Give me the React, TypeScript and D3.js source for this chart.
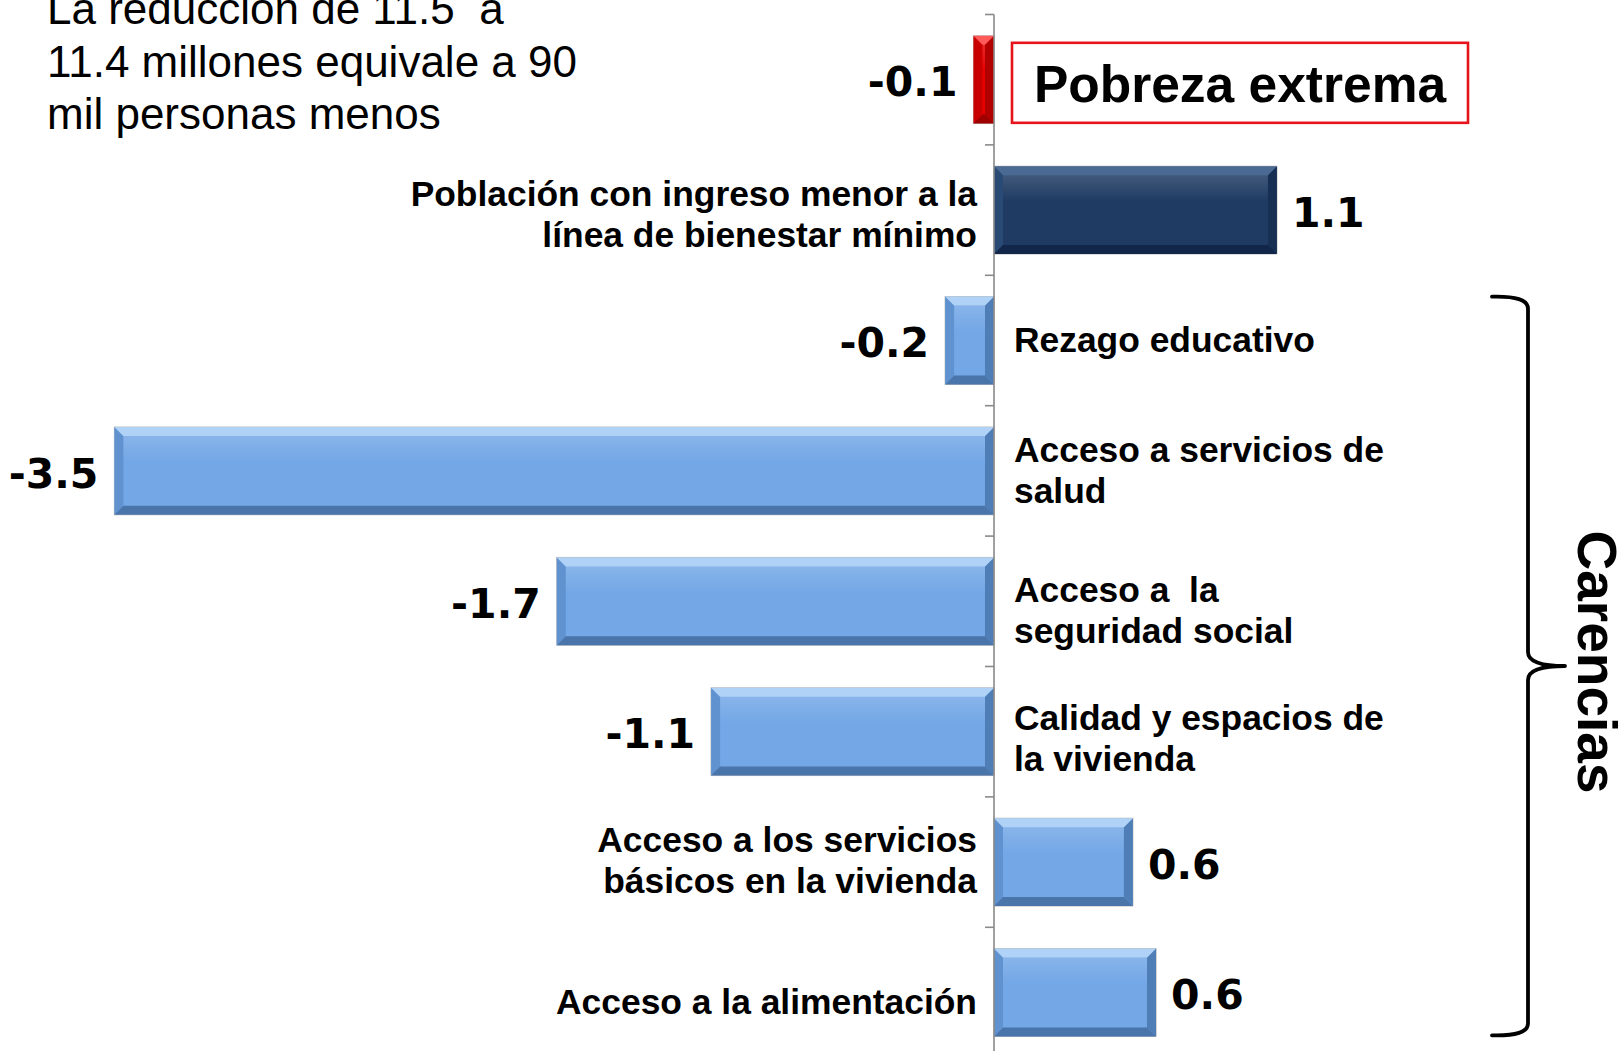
import React from "react";
import * as d3 from "d3";

// ---------- data ----------
const categories = [
  "extrema",
  "ingreso",
  "educativo",
  "salud",
  "seguridad",
  "vivienda",
  "servicios",
  "alimentacion",
];
const categoryLines: string[][] = [
  ["Pobreza extrema"],
  ["Población con ingreso menor a la", "línea de bienestar mínimo"],
  ["Rezago educativo"],
  ["Acceso a servicios de", "salud"],
  ["Acceso a  la", "seguridad social"],
  ["Calidad y espacios de", "la vivienda"],
  ["Acceso a los servicios", "básicos en la vivienda"],
  ["Acceso a la alimentación"],
];
const values = [-0.08, 1.1, -0.19, -3.42, -1.7, -1.1, 0.54, 0.63];
const valueLabels = ["-0.1", "1.1", "-0.2", "-3.5", "-1.7", "-1.1", "0.6", "0.6"];
const barGroups = ["extreme", "income", "lack", "lack", "lack", "lack", "lack", "lack"];
const noteLines = ["La reducción de 11.5  a", "11.4 millones equivale a 90", "mil personas menos"];
const bracketLabel = "Carencias";
const bracketFrom = "educativo";
const bracketTo = "alimentacion";

// ---------- styles ----------
const W = 1619;
const H = 1051;
const palette: Record<string, { face: string; top: string; bottom: string; left: string; right: string }> = {
  extreme: { face: "#E60000", top: "#FF5A5A", bottom: "#9E0000", left: "#C80000", right: "#B00000" },
  income: { face: "#1F3B63", top: "#4A6A94", bottom: "#12264A", left: "#2A4A76", right: "#172F52" },
  lack: { face: "#73A7E6", top: "#B0D2F6", bottom: "#4A75AA", left: "#6092D0", right: "#4F7DB6" },
};
// small vertical nudges (px) of category label blocks, as laid out in the original slide
const labelNudge = [0, 4, -1, -1, 8, 6, -2, 9];
const labelFont = "'Liberation Sans', Arial, sans-serif";
const valueFont = "'DejaVu Sans', Verdana, sans-serif";

const pre = (s: string) => s.replace(/  /g, " \u00A0");

export default function App() {
  const zeroX = 994;
  const unit = 257.2;
  const x = d3
    .scaleLinear()
    .domain([-3.5, 2.4])
    .range([zeroX - 3.5 * unit, zeroX + 2.4 * unit]);
  const y = d3
    .scaleBand<string>()
    .domain(categories)
    .range([14.5, 14.5 + 8 * 130.4])
    .paddingInner(0.327)
    .paddingOuter(0.1635);
  const step = y.step();
  const bh = y.bandwidth();
  const x0 = x(0);
  const rangeTop = (y.range() as number[])[0];

  const bevel = (bx: number, by: number, bw: number, bhh: number, b: number) => {
    const p = (pts: number[][]) => pts.map((q) => q.join(",")).join(" ");
    return {
      top: p([[bx, by], [bx + bw, by], [bx + bw - b, by + b], [bx + b, by + b]]),
      bottom: p([[bx, by + bhh], [bx + bw, by + bhh], [bx + bw - b, by + bhh - b], [bx + b, by + bhh - b]]),
      left: p([[bx, by], [bx + b, by + b], [bx + b, by + bhh - b], [bx, by + bhh]]),
      right: p([[bx + bw, by], [bx + bw - b, by + b], [bx + bw - b, by + bhh - b], [bx + bw, by + bhh]]),
    };
  };

  const braceTop = (y(bracketFrom) as number) + 0;
  const braceBot = (y(bracketTo) as number) + bh - 1;
  const braceMid = (braceTop + braceBot) / 2;
  const bxv = 1528;
  const bx0 = 1492;
  const btip = 1565;
  const bracePath = [
    `M${bx0},${braceTop}`,
    `Q${bxv},${braceTop - 1} ${bxv},${braceTop + 12}`,
    `L${bxv},${braceMid - 14}`,
    `Q${bxv},${braceMid} ${btip},${braceMid}`,
    `Q${bxv},${braceMid} ${bxv},${braceMid + 14}`,
    `L${bxv},${braceBot - 12}`,
    `Q${bxv},${braceBot + 1} ${bx0},${braceBot}`,
  ].join(" ");

  return (
    <svg
      width={W}
      height={H}
      viewBox={`0 0 ${W} ${H}`}
      style={{ position: "absolute", left: 0, top: 0, display: "block", background: "#fff" }}
    >
      <defs>
        <linearGradient id="hl" x1="0" y1="0" x2="0" y2="1">
          <stop offset="0" stopColor="#fff" stopOpacity="0.15" />
          <stop offset="1" stopColor="#fff" stopOpacity="0" />
        </linearGradient>
      </defs>
      <rect x={0} y={0} width={W} height={H} fill="#fff" />

      {/* note */}
      <g fontFamily={labelFont} fontSize={44} fill="#000">
        {noteLines.map((t, i) => (
          <text key={i} x={47} y={24 + i * 52.5}>
            {pre(t)}
          </text>
        ))}
      </g>

      {/* bars */}
      {categories.map((c, i) => {
        const v = values[i];
        const bx = Math.min(x(v), x0);
        const bw = Math.abs(x(v) - x0);
        const by = y(c) as number;
        const pal = palette[barGroups[i]];
        const b = Math.min(9, bw / 2, bh / 2);
        const bv = bevel(bx, by, bw, bh, b);
        return (
          <g key={c}>
            <rect x={bx} y={by} width={bw} height={bh} fill={pal.face} stroke="#b9b9b9" strokeWidth={1} />
            <polygon points={bv.left} fill={pal.left} />
            <polygon points={bv.right} fill={pal.right} />
            <polygon points={bv.top} fill={pal.top} />
            <polygon points={bv.bottom} fill={pal.bottom} />
            <rect x={bx + b} y={by + b} width={Math.max(0, bw - 2 * b)} height={bh * 0.3} fill="url(#hl)" />
          </g>
        );
      })}

      {/* axis */}
      <g stroke="#8a8a8a" strokeWidth={1.6}>
        <line x1={x0} x2={x0} y1={rangeTop} y2={H} />
        {d3.range(categories.length + 1).map((k) => (
          <line key={k} x1={x0 - 9} x2={x0} y1={rangeTop + k * step} y2={rangeTop + k * step} />
        ))}
      </g>

      {/* value labels */}
      <g fontFamily={valueFont} fontWeight="bold" fontSize={41} fill="#000">
        {categories.map((c, i) => {
          const v = values[i];
          const cy = (y(c) as number) + bh / 2;
          const pos = v >= 0;
          return (
            <text
              key={c}
              x={pos ? x(v) + 15 : x(v) - 16}
              y={cy + 2}
              dy="0.36em"
              textAnchor={pos ? "start" : "end"}
            >
              {valueLabels[i]}
            </text>
          );
        })}
      </g>

      {/* category labels */}
      <g fontFamily={labelFont} fontWeight="bold" fontSize={35.4} fill="#000">
        {categories.map((c, i) => {
          const v = values[i];
          const cy = (y(c) as number) + bh / 2;
          const lines = categoryLines[i];
          if (barGroups[i] === "extreme") {
            const bxL = x0 + 18;
            const bwL = 456;
            const byL = (y(c) as number) + 7;
            const bhL = 80;
            return (
              <g key={c}>
                <rect x={bxL} y={byL} width={bwL} height={bhL} fill="#fff" stroke="#E8141C" strokeWidth={2.6} />
                <text x={bxL + bwL / 2} y={byL + bhL / 2 + 1} dy="0.36em" textAnchor="middle" fontSize={51.5}>
                  {lines[0]}
                </text>
              </g>
            );
          }
          const pos = v >= 0;
          const lh = 41;
          const startY = cy + labelNudge[i] - ((lines.length - 1) * lh) / 2;
          return (
            <g key={c}>
              {lines.map((t, j) => (
                <text
                  key={j}
                  x={pos ? x0 - 17 : x0 + 20}
                  y={startY + j * lh}
                  dy="0.36em"
                  textAnchor={pos ? "end" : "start"}
                >
                  {pre(t)}
                </text>
              ))}
            </g>
          );
        })}
      </g>

      {/* bracket */}
      <path d={bracePath} fill="none" stroke="#000" strokeWidth={3.8} strokeLinecap="round" strokeLinejoin="round" />
      <text
        transform={`translate(1578, ${braceMid - 4}) rotate(90)`}
        textAnchor="middle"
        fontFamily={labelFont}
        fontWeight="bold"
        fontSize={55}
        fill="#000"
      >
        {bracketLabel}
      </text>
    </svg>
  );
}
